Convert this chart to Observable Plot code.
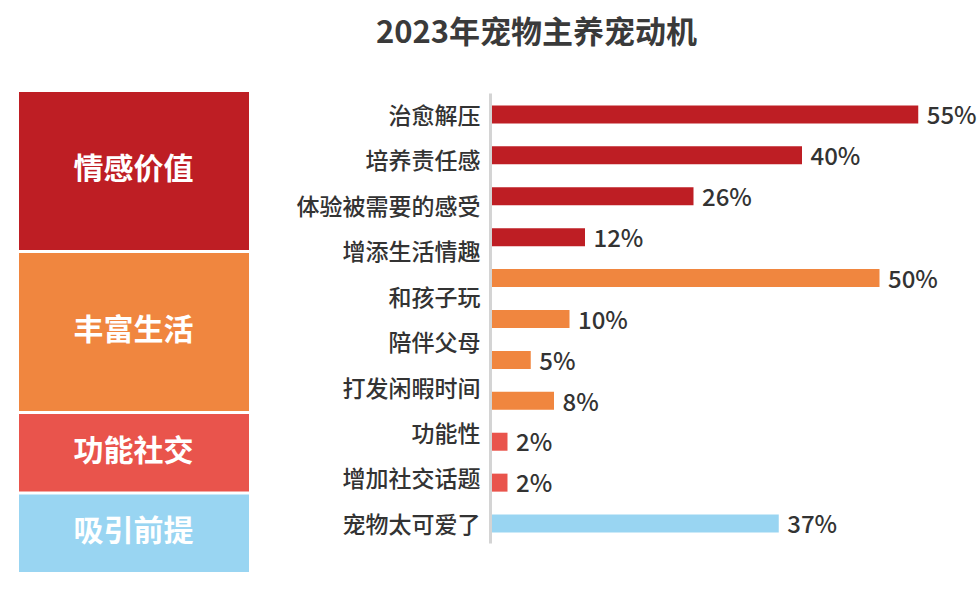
<!DOCTYPE html>
<html>
<head>
<meta charset="utf-8">
<script src="https://cdn.jsdelivr.net/npm/d3@7"></script>
<script src="https://cdn.jsdelivr.net/npm/@observablehq/plot@0.6"></script>
<style>
  html, body { margin: 0; padding: 0; background: #fff; }
  body { width: 979px; height: 591px; overflow: hidden; font-family: "Noto Sans CJK SC", "Noto Sans", sans-serif; }
  #title { height: 64px; line-height: 60px; text-align: center; padding-left: 94px; box-sizing: border-box;
           font-size: 31px; font-weight: bold; color: #3a3a3a; }
  #row { display: flex; flex-direction: row; align-items: flex-start; }
  #row svg { display: block; }
</style>
</head>
<body>
<div id="title">2023年宠物主养宠动机</div>
<div id="row"></div>
<script>
// ---- data ----
const groups = ["情感价值", "丰富生活", "功能社交", "吸引前提"];
const groupSpans = [2, 2, 1, 1];
const groupColors = ["#be1e24", "#f0863f", "#e9544c", "#99d5f2"];

const barValues = [55, 40, 26, 12, 50, 10, 5, 8, 2, 2, 37];
const barGroups = ["情感价值", "情感价值", "情感价值", "情感价值",
                   "丰富生活", "丰富生活", "丰富生活", "丰富生活",
                   "功能社交", "功能社交", "吸引前提"];
const itemLabels = ["治愈解压", "培养责任感", "体验被需要的感受", "增添生活情趣",
                    "和孩子玩", "陪伴父母", "打发闲暇时间", "功能性",
                    "增加社交话题", "宠物太可爱了"];

// ---- derived tables ----
let cum = 0;
const groupRows = groups.map((g, i) => {
  const r = {group: g, y1: cum, y2: cum + groupSpans[i]};
  cum += groupSpans[i];
  return r;
});
const bars = barValues.map((v, i) => ({i, value: v, group: barGroups[i]}));
const labelRows = itemLabels.map((t, i) => ({
  label: t,
  pos: i * (barValues.length - 1) / (itemLabels.length - 1)
}));

const colorScale = {domain: groups, range: groupColors};
const font = "'Noto Sans CJK SC', 'Noto Sans', sans-serif";

// ---- left category boxes ----
const boxes = Plot.plot({
  width: 250,
  height: 527,
  marginLeft: 19,
  marginRight: 1,
  marginTop: 26.5,
  marginBottom: 17.5,
  x: {axis: null},
  y: {domain: [0, cum], reverse: true, axis: null},
  color: colorScale,
  style: {fontFamily: font, background: "transparent", overflow: "visible"},
  marks: [
    Plot.rect(groupRows, {y1: "y1", y2: "y2", fill: "group", insetTop: 1.5, insetBottom: 1.5}),
    Plot.text(groupRows, {
      y: d => (d.y1 + d.y2) / 2, text: "group", fill: "white",
      fontSize: 30, fontWeight: "bold", frameAnchor: "middle", dx: -1, dy: -2
    })
  ]
});

// ---- bars ----
const chart = Plot.plot({
  width: 729,
  height: 527,
  marginLeft: 242,
  marginRight: 22,
  marginTop: 29.5,
  marginBottom: 47.5,
  x: {domain: [0, 60], axis: null},
  y: {domain: [-0.5, barValues.length - 0.5], reverse: true, axis: null},
  color: colorScale,
  style: {fontFamily: font, background: "transparent", overflow: "visible"},
  marks: [
    Plot.ruleX([0], {dx: -2, stroke: "#d4d4d4", strokeWidth: 3}),
    Plot.ruleY(bars, {y: "i", x1: 0, x2: "value", stroke: "group", strokeWidth: 18}),
    Plot.text(bars, {
      y: "i", x: "value", text: d => d.value + "%", textAnchor: "start", dx: 8, dy: 2,
      fontSize: 24, fill: "#333", fontWeight: 500
    }),
    Plot.text(labelRows, {
      y: "pos", x: 0, text: "label", textAnchor: "end", dx: -12, dy: 2,
      fontSize: 23, fill: "#333", fontWeight: 500
    })
  ]
});

const row = document.getElementById("row");
row.appendChild(boxes);
row.appendChild(chart);
</script>
</body>
</html>
